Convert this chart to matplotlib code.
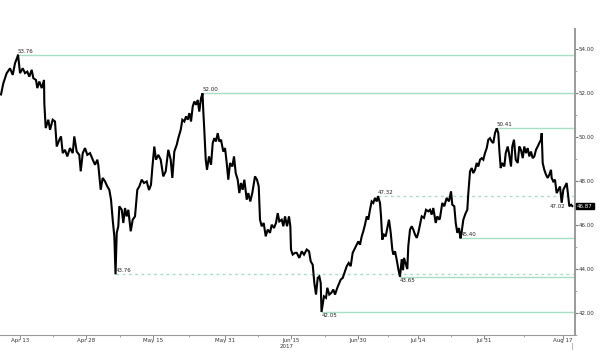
import numpy as np
import matplotlib
matplotlib.use("Agg")
import matplotlib.pyplot as plt
import matplotlib.transforms as mtransforms

# ---- data (trading-day offset from 2017-04-13, price) ----
day_offset = [
    -3.15, -2.77, -2.21, -1.66, -1.21, -0.83, -0.38, -0.33, 0.00, 0.45, 0.83, 1.21, 1.54, 1.94, 2.21, 2.65,
    2.87, 3.20, 3.60, 3.98, 4.03, 4.26, 4.69, 4.98, 5.42, 5.80, 6.09, 6.52, 6.80, 7.08, 7.46, 7.84,
    8.29, 8.74, 9.00, 9.40, 9.83, 10.07, 10.40, 10.78, 11.16, 11.61, 12.06, 12.44, 12.82, 12.98, 13.38, 13.71,
    14.10, 14.48, 14.81, 15.09, 15.37, 15.64, 15.84, 16.04, 16.30, 16.47, 16.87, 17.13, 17.41, 17.69, 17.96, 18.36,
    18.69, 19.07, 19.45, 19.78, 20.18, 20.56, 21.01, 21.39,
    21.72, 21.94, 22.27, 22.55, 22.94, 23.33, 23.76, 24.16, 24.59, 24.99, 25.26, 25.59, 25.99, 26.25, 26.65, 26.92,
    27.25, 27.53, 27.81, 28.08, 28.36, 28.64, 28.91, 29.19, 29.47, 29.73, 30.02, 30.27, 30.40, 30.56, 30.80, 31.01,
    31.34, 31.68, 31.96, 32.22, 32.50, 32.79, 33.05, 33.33, 33.71, 34.00, 34.28, 34.54, 34.83, 35.21, 35.49, 35.77,
    36.10, 36.37, 36.65, 36.93, 37.20, 37.60, 37.86, 38.19, 38.52, 38.97, 39.30, 39.59, 39.80, 40.08, 40.41, 40.75,
    41.08, 41.46, 41.74, 42.12, 42.45, 42.74, 43.00, 43.40, 43.67, 43.95, 44.28, 44.61, 44.83, 44.94, 45.22, 45.61,
    45.89, 46.32, 46.72, 47.10, 47.55, 47.93, 48.21, 48.54, 48.81, 49.09, 49.37, 49.64, 49.87, 50.00, 50.41, 50.75,
    50.96, 51.29, 51.63, 51.96, 52.24, 52.62, 52.95, 53.18, 53.52, 53.90, 54.18, 54.51, 54.84, 55.17, 55.44, 55.72,
    56.10, 56.38, 56.67, 56.93, 57.21, 57.50, 57.76, 58.04, 58.32, 58.59, 58.87, 59.15, 59.37, 59.70, 59.87, 60.08,
    60.36, 60.65, 60.91, 61.19, 61.48, 61.74, 61.91, 62.19, 62.47, 62.74, 63.02, 63.30, 63.52, 63.68, 64.01, 64.23,
    64.39, 64.68, 64.96, 65.22, 65.51, 65.79, 66.05, 66.33, 66.62, 67.00, 67.33, 67.71, 67.99, 68.27, 68.54, 68.94,
    69.20, 69.54,
    69.65, 70.03, 70.36, 70.76, 71.14, 71.48, 71.69, 72.02, 72.26, 72.52, 72.80, 73.05, 73.22, 73.52, 73.91, 74.18,
    74.35, 74.63, 74.91, 75.17, 75.46, 75.74, 76.00, 76.29, 76.57, 76.83, 77.11, 77.40, 77.66, 77.94, 78.22, 78.49,
    78.77, 79.05, 79.32, 79.49, 79.72, 79.98, 80.32, 80.55, 80.88, 81.09, 81.43, 81.64, 81.92, 82.21, 82.54, 82.80,
    83.08, 83.37, 83.63, 83.91, 84.19, 84.46, 84.74, 85.02, 85.29, 85.57, 85.85, 86.12, 86.40, 86.52, 86.68, 86.95,
    87.23, 87.51, 87.78, 88.06, 88.17, 88.44, 88.72, 89.00, 89.27, 89.55, 89.83, 90.10, 90.38, 90.66, 90.92, 91.09,
    91.38, 91.59,
]
price = [
    51.95, 52.46, 52.92, 53.14, 52.84, 53.37, 53.70, 53.76, 52.92, 53.14, 52.92, 52.99, 52.76, 53.07, 52.69, 52.61,
    52.24, 52.54, 52.24, 52.61, 51.55, 50.42, 50.80, 50.34, 50.80, 50.72, 49.58, 49.89, 50.04, 49.28, 49.43, 49.13,
    49.51, 49.28, 50.04, 49.35, 49.20, 48.45, 49.28, 49.51, 49.20, 49.28, 48.98, 48.75, 48.98, 48.75, 47.61, 48.15,
    47.99, 47.76, 47.61, 47.16, 46.25, 45.49, 43.76, 45.65, 45.95, 46.86, 46.70, 46.10, 46.78, 46.40, 46.70, 45.72,
    46.25, 46.40, 47.61, 47.76, 48.07, 47.92, 47.99, 47.60,
    47.84, 48.60, 49.58, 48.98, 49.20, 48.98, 48.22, 48.45, 49.43, 48.98, 48.15, 49.35, 49.66, 49.96, 50.34, 50.80,
    50.72, 50.95, 50.80, 51.10, 50.72, 51.40, 51.63, 51.48, 51.70, 51.17, 51.78, 52.00, 51.17, 50.34, 48.98, 48.52,
    49.13, 48.75, 49.74, 49.96, 49.81, 50.19, 49.81, 49.89, 49.35, 49.51, 48.83, 48.07, 48.83, 48.67, 49.13, 48.37,
    48.07, 47.46, 47.92, 47.61, 48.07, 47.16, 47.46, 47.08, 47.46, 48.22, 48.07, 47.76, 46.25, 45.95, 46.10, 45.49,
    45.80, 45.65, 46.02, 45.87, 46.10, 46.55, 46.17, 46.25, 45.95, 46.40, 45.95, 46.40, 45.95, 44.89, 44.66, 44.74,
    44.74, 44.51, 44.81, 44.66, 44.89, 44.81, 44.35, 44.20, 43.37, 42.84, 43.60, 43.67, 43.37, 42.05, 42.76, 42.69,
    43.15, 42.84, 42.92, 43.07, 42.84, 43.15, 43.37, 43.52, 43.60, 43.90, 44.13, 44.28, 44.13, 44.74, 44.89, 45.04,
    45.26, 45.11, 45.49, 45.72, 46.02, 46.40, 46.25, 46.70, 47.08, 47.01, 47.24, 47.08, 47.32, 47.01, 46.40, 45.34,
    45.57, 45.49, 45.87, 46.25, 45.65, 44.89, 44.66, 44.81, 44.43, 44.00, 43.65, 44.45, 43.95, 44.51, 44.20, 44.00,
    45.04, 45.80, 45.95, 45.80, 45.57, 45.42, 45.65, 46.02, 46.40, 46.33, 46.70, 46.63, 46.70, 46.48, 46.78, 46.10,
    46.40, 46.25,
    46.33, 47.01, 46.86, 47.24, 47.08, 47.54, 46.93, 46.86, 46.10, 45.65, 45.87, 45.40, 45.65, 46.25, 46.55, 46.70,
    47.46, 48.45, 48.60, 48.37, 48.52, 48.83, 48.67, 48.98, 49.05, 48.98, 49.28, 49.51, 49.89, 49.96, 49.81, 49.74,
    50.19, 50.41, 50.19, 49.43, 48.60, 48.83, 48.67, 49.28, 49.58, 49.28, 48.67, 49.58, 49.89, 48.98, 48.83, 49.58,
    49.43, 49.05, 49.58, 49.28, 49.51, 49.13, 49.35, 49.05, 49.13, 49.43, 49.58, 49.74, 49.89, 50.19, 48.83, 48.52,
    48.30, 48.15, 48.30, 48.52, 48.15, 47.99, 48.07, 47.46, 47.61, 47.76, 47.02, 47.61, 47.76, 47.92, 47.31, 46.86,
    46.93, 46.87,
]

tick_dates = ["2017-04-13", "2017-04-28", "2017-05-15", "2017-05-31", "2017-06-15",
              "2017-06-30", "2017-07-14", "2017-07-31", "2017-08-17"]
tick_labels = ["Apr 13", "Apr 28", "May 15", "May 31", "Jun 15", "Jun 30", "Jul 14", "Jul 31", "Aug 17"]
year_label = "2017"

levels = [53.76, 52.00, 50.41, 47.32, 45.40, 43.76, 43.65, 42.05]
level_dashed = [False, False, False, True, False, True, False, False]
level_label_above = [True, True, True, True, True, True, False, False]
extra_low = 47.02
last_price = 46.87

y_ticks = [42, 44, 46, 48, 50, 52, 54]

# ---- figure ----
W, H, DPI = 600, 358, 100
fig = plt.figure(figsize=(W / DPI, H / DPI), dpi=DPI)
fig.patch.set_facecolor("white")
ax = fig.add_axes([0.0, 23 / H, 575 / W, 306 / H])

t = np.array(day_offset)
p = np.array(price)
ax.plot(t, p, color="black", lw=1.5, solid_joinstyle="miter", zorder=3)

xmin, xmax = -3.32, 92.04
ax.set_xlim(xmin, xmax)
ax.set_ylim(41.02, 54.93)

line_col = "#a6dec6"
txt_col = "#222222"
for lev, dashed, above in zip(levels, level_dashed, level_label_above):
    i = int(np.argmin(np.abs(p - lev)))
    x0 = t[i]
    ax.plot([x0, xmax], [lev, lev], color=line_col, lw=1.0,
            ls=(0, (2, 2.5)) if dashed else "-", zorder=2, clip_on=False)
    ax.annotate(f"{lev:.2f}", xy=(x0, lev), xytext=(0, 0.8 if above else -0.8),
                textcoords="offset points", ha="left",
                va="bottom" if above else "top", fontsize=4.0, color=txt_col, zorder=4)

i = int(np.argmin(np.abs(p - extra_low)))
ax.annotate(f"{extra_low:.2f}", xy=(t[i], extra_low), xytext=(2.5, -0.6),
            textcoords="offset points", ha="right", va="top", fontsize=4.0, color=txt_col)

# axes styling
for s in ["left", "top"]:
    ax.spines[s].set_visible(False)
ax.spines["bottom"].set_color("#9a9a9a")
ax.spines["bottom"].set_linewidth(0.8)
ax.spines["right"].set_color("#9a9a9a")
ax.spines["right"].set_linewidth(1.4)

ax.yaxis.tick_right()
ax.set_yticks(y_ticks)
ax.set_yticks(np.arange(41, 55, 2), minor=True)
ax.set_yticklabels([f"{v:.2f}" for v in y_ticks])
ax.tick_params(axis="y", which="major", direction="out", length=2, width=0.8,
               color="#777777", pad=0.5, labelsize=4.0, labelcolor="#333333")
ax.tick_params(axis="y", which="minor", direction="out", length=1.2, width=0.6, color="#999999")

tick_pos = [int(np.busday_count("2017-04-13", d)) for d in tick_dates]
ax.set_xticks(tick_pos)
ax.set_xticklabels(tick_labels)
minor_pos = [(a + b) / 2 for a, b in zip(tick_pos[:-1], tick_pos[1:])]
ax.set_xticks(minor_pos, minor=True)
ax.tick_params(axis="x", which="major", direction="out", length=3, width=0.6,
               color="#777777", pad=-1.0, labelsize=4.0, labelcolor="#333333")
ax.tick_params(axis="x", which="minor", direction="out", length=1.2, width=0.6, color="#999999")

trans = mtransforms.blended_transform_factory(ax.transData, ax.transAxes)
ax.annotate(year_label, xy=(tick_pos[4], 0), xycoords=trans, xytext=(-3.5, -6.5),
            textcoords="offset points", ha="center", va="top", fontsize=4.0, color="#333333",
            annotation_clip=False)
ax.plot([t[-1], t[-1]], [-0.025, -0.045], transform=trans, color="#aaaaaa", lw=0.6, clip_on=False)

# last price box
ax.annotate(f"{last_price:.2f}", xy=(1.0, last_price),
            xycoords=mtransforms.blended_transform_factory(ax.transAxes, ax.transData),
            xytext=(1.5, 0), textcoords="offset points", ha="left", va="center",
            fontsize=4.0, color="white",
            bbox=dict(boxstyle="square,pad=0.15", fc="black", ec="black"),
            annotation_clip=False, zorder=6)

fig.savefig("out.png", dpi=DPI, facecolor="white")
